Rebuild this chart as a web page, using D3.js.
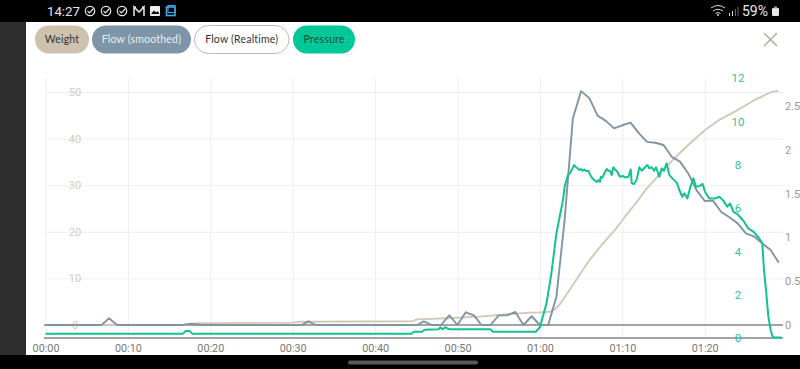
<!DOCTYPE html>
<html>
<head>
<meta charset="utf-8">
<script src="https://cdn.jsdelivr.net/npm/d3@7"></script>
<style>
  html, body { margin: 0; padding: 0; background: #000; overflow: hidden; }
  svg { display: block; }
  text { font-family: Roboto, sans-serif; }
  .domain { display: none; }
</style>
</head>
<body>
<script>
//1. Data
const pills = ["Weight", "Flow (smoothed)", "Flow (Realtime)", "Pressure"];
const timeTicks = [0, 10, 20, 30, 40, 50, 60, 70, 80];
const weightTicks = [0, 10, 20, 30, 40, 50];
const flowTicks = [0, 0.5, 1, 1.5, 2, 2.5];
const pressureTicks = [0, 2, 4, 6, 8, 10, 12];

const weightTimes = [0, 16.8, 18.5, 30, 30.9, 44.6, 45, 48, 52.7, 56, 58.8, 60, 61.2, 61.83, 62.44, 63.45, 64.66, 65.87, 67.5, 69.11, 70.33, 71.94, 72.96, 73.97, 74.58, 76.19, 78.22, 80.04, 81.86, 83.88, 85.9, 87.92, 88.93];
const weightValues = [0, 0, 0.4, 0.5, 0.7, 0.8, 1.2, 1.4, 1.8, 2.3, 2.65, 2.7, 2.85, 3.37, 4.5, 7.15, 10.36, 13.58, 17.17, 20.39, 23.24, 26.82, 29.33, 31.2, 32.6, 35.56, 39, 41.85, 44.14, 46, 48.13, 49.85, 50.3];

const flowTimes = [0, 6.8, 7.7, 8.7, 16.6, 17.7, 18.8, 31.1, 31.9, 32.8, 45.1, 45.9, 46.9, 48, 49, 50, 51, 52, 52.9, 54, 55, 56, 57, 58, 59, 60, 61, 62, 63, 64, 65, 66, 67, 68, 69, 70, 71, 72, 73, 74, 75, 76, 77, 78, 79, 80, 81, 82, 83, 84, 85, 86, 87, 88, 89];
const flowValues = [0, 0, 0.076, 0, 0, 0.015, 0, 0, 0.042, 0, 0, 0.042, 0, 0, 0.11, 0, 0.145, 0.11, 0, 0, 0.11, 0.11, 0.15, 0, 0.1, 0, 0, 0.32, 1.2, 2.36, 2.67, 2.59, 2.39, 2.33, 2.245, 2.28, 2.31, 2.19, 2.09, 2.08, 2.055, 1.92, 1.865, 1.73, 1.54, 1.415, 1.42, 1.29, 1.23, 1.16, 1.047, 1.01, 0.93, 0.856, 0.71];

const pressureTimes = [0, 16.7, 17, 17.5, 17.8, 44.4, 44.7, 45.7, 46, 47.7, 47.9, 48.2, 48.5, 49, 54, 54.3, 59.5, 60, 60.8, 61.4, 62, 62.8, 63, 63.4, 63.7,
  64.14, 64.38, 64.58, 64.79, 64.99, 65.19, 65.39, 65.6, 65.88, 66.08, 66.36, 66.69, 66.89, 67.09, 67.3, 67.38, 67.58, 67.82, 68.1, 68.31, 68.51, 68.71, 68.91, 69.12, 69.4, 69.72, 70.05, 70.33, 70.73, 71.02, 71.14, 71.42, 71.75, 72.07, 72.35, 72.76, 73.04, 73.28, 73.57, 73.85, 74.09,
  74.49, 74.78, 75.06, 75.38, 75.71, 76.19, 76.6, 76.92, 77.28, 77.53, 77.89, 78.21, 78.62, 78.94, 79.35, 79.75, 80.03, 80.56, 81.25, 81.77, 82.26, 82.74, 83.07, 83.47, 83.96, 84.69, 85.29, 85.9, 86.51, 86.99, 87.19, 87.44, 87.72, 88, 88.24, 88.5, 89.3];
const pressureValues = [0.2, 0.2, 0.32, 0.32, 0.2, 0.2, 0.29, 0.29, 0.38, 0.4, 0.49, 0.4, 0.5, 0.4, 0.4, 0.29, 0.29, 0.5, 1.6, 3, 4.83, 6.37, 6.98, 7.52, 7.63,
  7.98, 7.88, 7.83, 7.75, 7.8, 7.72, 7.78, 7.71, 7.72, 7.55, 7.37, 7.26, 7.2, 7.29, 7.21, 7.44, 7.4, 7.6, 7.8, 7.72, 7.72, 7.52, 7.88, 7.78, 7.67, 7.44, 7.48, 7.41, 7.44, 7.78, 7.14, 7.11, 7.32, 7.88, 7.72, 7.88, 7.98, 7.83, 7.88, 7.72, 7.88,
  7.44, 7.83, 7.72, 8.06, 7.52, 7.32, 7.17, 6.83, 6.52, 6.68, 6.44, 6.91, 7.37, 6.98, 7.01, 7.11, 6.75, 6.44, 6.44, 6.52, 6.34, 6.06, 6.21, 5.83, 5.72, 5.41, 5.06, 4.91, 4.65, 4.37, 3.14, 2.2, 1, 0.37, 0.06, 0.02, 0.02];

//2. Consts
const w = 800, h = 369;
const plotTop = 78, plotBottom = 338, plotLeft = 45.5, plotRight = 783, zeroY = 325;
const weightColor = "#d2c8b5", flowColor = "#7f95a5", pressureColor = "#12c291";

//3. Scales
const xScale = d3.scaleLinear().domain([0, 89.5]).range([plotLeft, plotRight]);
const weightScale = d3.scaleLinear().domain([0, 50]).range([zeroY, 92]);
const flowScale = d3.scaleLinear().domain([0, 2.5]).range([zeroY, 106]);
const pressureScale = d3.scaleLinear().domain([0, 12]).range([plotBottom, plotTop]);

const formatTime = s => d3.format("02")(Math.floor(s / 60)) + ":" + d3.format("02")(s % 60);

//4. SVG and page frame
const svg = d3.select("body").append("svg").attr("width", w).attr("height", h);
svg.append("rect").attr("width", w).attr("height", h).attr("fill", "#000");
svg.append("rect").attr("x", 0).attr("y", 22).attr("width", 26).attr("height", 333).attr("fill", "#2e2e2e");
svg.append("rect").attr("x", 26).attr("y", 22).attr("width", 774).attr("height", 333).attr("fill", "#fff");
svg.append("rect").attr("x", 348).attr("y", 360.5).attr("width", 130).attr("height", 4).attr("rx", 2).attr("fill", "#5a5a5a");

//5. Status bar
svg.append("text").attr("x", 47).attr("y", 16).attr("fill", "#e8e8e8").attr("font-size", 13.2).text("14:27");
[90, 106, 122].forEach(cx => {
  svg.append("circle").attr("cx", cx).attr("cy", 11).attr("r", 4.7).attr("fill", "none").attr("stroke", "#e8e8e8").attr("stroke-width", 1.2);
  svg.append("path").attr("d", `M${cx - 2.5},11 l2,2 l4,-4.5`).attr("fill", "none").attr("stroke", "#e8e8e8").attr("stroke-width", 1.2);
});
svg.append("path").attr("d", "M134,16 v-9 l5,5 l5,-5 v9 M134,7 h2 M144,7 h-2").attr("fill", "none").attr("stroke", "#ddd").attr("stroke-width", 1.6);
svg.append("rect").attr("x", 150).attr("y", 6).attr("width", 10).attr("height", 10).attr("rx", 1).attr("fill", "#eee");
svg.append("path").attr("d", "M151,14 l3,-3.5 l2,2 l1.5,-1.5 l2,3 z").attr("fill", "#000");
svg.append("rect").attr("x", 166.5).attr("y", 7).attr("width", 8.5).attr("height", 8.5).attr("fill", "none").attr("stroke", "#3fa9e8").attr("stroke-width", 1.6);
svg.append("rect").attr("x", 168).attr("y", 5.5).attr("width", 7).attr("height", 7).attr("fill", "none").attr("stroke", "#3fa9e8").attr("stroke-width", 1);
svg.append("path").attr("d", "M711,8 q7,-5 14,0 M713,11 q5,-3.5 10,0 M715.5,13.5 q2.5,-2 5,0").attr("fill", "none").attr("stroke", "#ddd").attr("stroke-width", 1);
svg.append("circle").attr("cx", 718).attr("cy", 15).attr("r", 1).attr("fill", "#ddd");
[[729, 13, 3], [732, 11, 5], [735, 9, 7], [737.5, 7, 9]].forEach((b, i) => {
  svg.append("rect").attr("x", b[0]).attr("y", b[1]).attr("width", 1).attr("height", b[2]).attr("fill", i > 1 ? "#666" : "#ddd");
});
svg.append("text").attr("x", 742).attr("y", 16).attr("fill", "#e8e8e8").attr("font-size", 14).text("59%");
svg.append("rect").attr("x", 772).attr("y", 8).attr("width", 7).attr("height", 8).attr("rx", 1).attr("fill", "#e8e8e8");
svg.append("rect").attr("x", 774).attr("y", 6.5).attr("width", 3).attr("height", 2).attr("fill", "#999");

//6. Pills
const pillBoxes = [[35, 54, "#cdc2ae", "none", "#333"], [92, 99, "#7d95a6", "none", "#e9eef1"], [194.5, 94.5, "#fff", "#bbb", "#333"], [293, 62, "#02c796", "none", "#1f4f42"]];
pills.forEach((label, i) => {
  const b = pillBoxes[i];
  svg.append("rect").attr("x", b[0]).attr("y", 25.5).attr("width", b[1]).attr("height", 28).attr("rx", 14)
    .attr("fill", b[2]).attr("stroke", b[3]);
  svg.append("text").attr("x", b[0] + b[1] / 2).attr("y", 43.3).attr("text-anchor", "middle")
    .attr("font-size", 10.5).attr("letter-spacing", 0.2).style("font-family", "Lato, sans-serif").attr("fill", b[4]).text(label);
});
svg.append("path").attr("d", "M764,33 L777,46 M777,33 L764,46").attr("stroke", "#b8ab9b").attr("stroke-width", 1.5).attr("fill", "none");

//7. Grid
const gridX = d3.axisBottom(xScale).tickValues(timeTicks).tickSize(plotTop - plotBottom).tickFormat("");
svg.append("g").attr("transform", "translate(0," + plotBottom + ")").call(gridX)
  .selectAll("line").attr("stroke", "#eeeeee");
const gridY = d3.axisLeft(weightScale).tickValues(weightTicks.slice(1)).tickSize(plotLeft - plotRight).tickFormat("");
svg.append("g").attr("transform", "translate(" + plotLeft + ",0)").call(gridY)
  .selectAll("line").attr("stroke", "#eeeeee");

//8. Base lines
[zeroY, plotBottom].forEach(y => {
  svg.append("line").attr("x1", 44).attr("x2", plotRight).attr("y1", y).attr("y2", y)
    .attr("stroke", "#858585").attr("stroke-width", 1.6);
});

//9. Axes
const bottomAxis = d3.axisBottom(xScale).tickValues(timeTicks).tickSize(0).tickPadding(6).tickFormat(formatTime);
const xG = svg.append("g").attr("transform", "translate(0," + plotBottom + ")").call(bottomAxis);
xG.selectAll("text").attr("fill", "#777").style("font-size", "10.8px");

const leftAxis = d3.axisRight(weightScale).tickValues(weightTicks).tickSize(0).tickPadding(0);
const leftG = svg.append("g").attr("transform", "translate(75,0)").call(leftAxis);
leftG.selectAll("text").attr("fill", "#d6cdbb").attr("text-anchor", "middle").style("font-size", "11px");

const flowAxis = d3.axisRight(flowScale).tickValues(flowTicks).tickSize(0).tickPadding(0).tickFormat(d => d);
const flowG = svg.append("g").attr("transform", "translate(785,0)").call(flowAxis);
flowG.selectAll("text").attr("fill", "#999").style("font-size", "11px");

//10. Lines
const drawSeries = (times, values, yScale, color, width) => {
  const line = d3.line().x(d => xScale(d)).y((d, i) => yScale(values[i]));
  svg.append("path").attr("d", line(times)).attr("fill", "none").attr("stroke", color)
    .attr("stroke-width", width).attr("stroke-linejoin", "round");
};
drawSeries(weightTimes, weightValues, weightScale, weightColor, 1.9);
drawSeries(flowTimes, flowValues, flowScale, flowColor, 1.9);
drawSeries(pressureTimes, pressureValues, pressureScale, pressureColor, 2);

const pressureAxis = d3.axisRight(pressureScale).tickValues(pressureTicks).tickSize(0).tickPadding(0);
const pressureG = svg.append("g").attr("transform", "translate(738,0)").call(pressureAxis);
pressureG.selectAll("text").attr("fill", "#2cc79b").attr("text-anchor", "middle").style("font-size", "11.5px");
</script>
</body>
</html>
